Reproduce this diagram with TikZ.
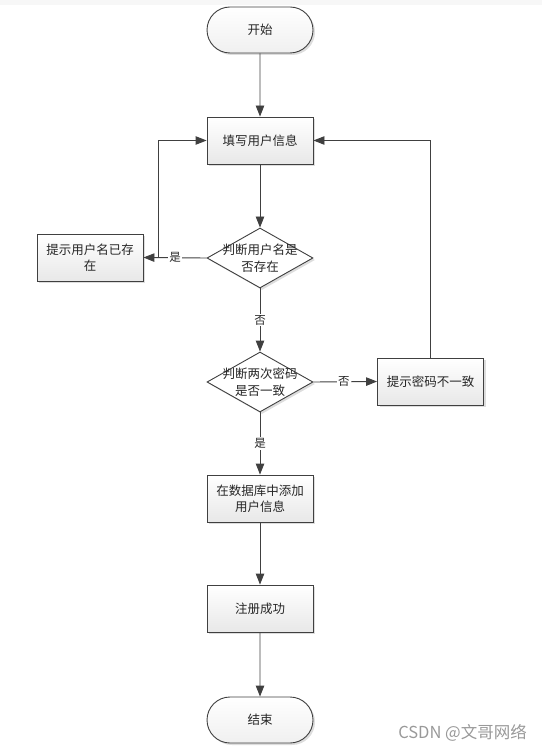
\documentclass[tikz,border=0pt]{standalone}
\usepackage{fontspec}
\setmainfont{Noto Sans CJK SC}
\newfontfamily\wmfont{Noto Sans CJK SC}
\usetikzlibrary{shapes.geometric,shapes.misc,arrows.meta,shadows}
\definecolor{lc}{HTML}{404040}
\tikzset{
  base/.style={draw=lc, line width=0.9pt, font=\fontsize{12.5}{16}\selectfont, text=black!85, align=center, inner sep=0pt},
  procbox/.style={base, rectangle, minimum width=106pt, minimum height=47pt, top color=white, bottom color=gray!18,
    drop shadow={shadow xshift=2pt, shadow yshift=-2pt, fill=gray!45, opacity=0.6}},
  term/.style={base, rounded rectangle, minimum width=106pt, minimum height=46pt, top color=white, bottom color=gray!12,
    drop shadow={shadow xshift=2pt, shadow yshift=-2pt, fill=gray!45, opacity=0.6}},
  dia/.style={base, diamond, minimum width=106pt, minimum height=60pt, aspect=1.77, fill=white,
    drop shadow={shadow xshift=2pt, shadow yshift=-2pt, fill=gray!45, opacity=0.6}},
  txt/.style={font=\fontsize{12.5}{17}\selectfont, text=black!85, align=center, inner sep=0pt},
  conn/.style={draw=lc, line width=0.9pt, -{Triangle[length=11pt,width=8.5pt]}},
  lab/.style={fill=white, font=\fontsize{11.5}{13}\selectfont, text=black!85, inner sep=1pt}
}
\begin{document}
\begin{tikzpicture}[x=1pt,y=-1pt]
\useasboundingbox (0,0) rectangle (542,751);
\fill[gray!6] (0,0) rectangle (542,5);
\node[term] (start) at (260,30) {开始};
\node[procbox] (fill) at (260,140.5) {填写用户信息};
\node[dia] (d1) at (260,258) {};
\node[txt] (d1t) at (260,258) {判断用户名是\\否存在};
\node[procbox] (exist) at (90,257.5) {提示用户名已存\\在};
\node[dia] (d2) at (260,382) {};
\node[txt] (d2t) at (260,382) {判断两次密码\\是否一致};
\node[procbox] (diff) at (430.5,381.5) {提示密码不一致};
\node[procbox] (add) at (260,498.5) {在数据库中添加\\用户信息};
\node[procbox] (ok) at (260,608.5) {注册成功};
\node[term] (end) at (260,720) {结束};
\node[font=\wmfont\fontsize{16.5}{18}\selectfont, text=gray!80, anchor=east, inner sep=0pt] (wm) at (527,733) {CSDN @文哥网络};

\coordinate (c1) at (158,258);
\coordinate (c2) at (158,140.5);
\coordinate (c3) at (430.5,140.5);

\draw[conn] (start) -- (fill);
\draw[conn] (fill) -- (d1);
\draw[conn] (d1.west) -- node[lab] {是} (exist.east);
\draw[conn] (c1) -- (c2) -- (fill.west);
\draw[conn] (d1.south) -- node[lab, pos=0.5] {否} (d2.north);
\draw[conn] (d2.east) -- node[lab, pos=0.48] {否} (diff.west);
\draw[conn] (diff.north) -- (c3) -- (fill.east);
\draw[conn] (d2.south) -- node[lab, pos=0.5] {是} (add.north);
\draw[conn] (add) -- (ok);
\draw[conn] (ok) -- (end);
\end{tikzpicture}
\end{document}
